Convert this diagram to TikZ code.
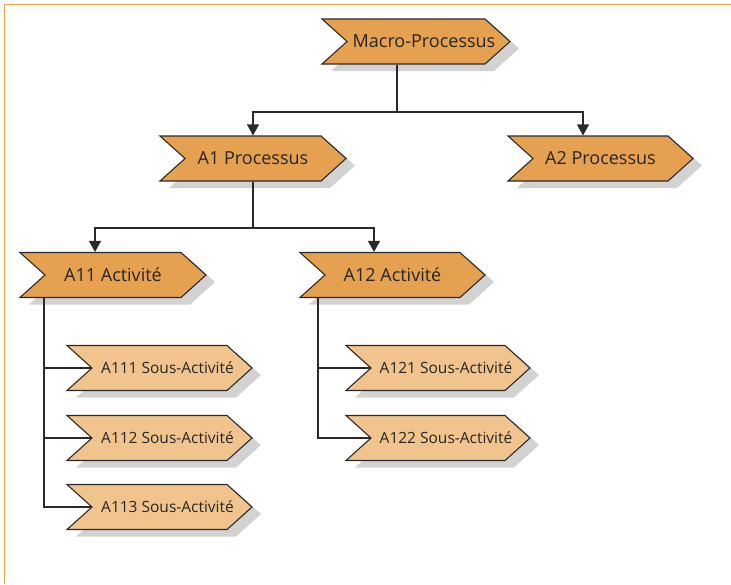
\documentclass[tikz,border=0pt]{standalone}
\usepackage{fontspec}
\setmainfont{Open Sans}
\usetikzlibrary{shapes.symbols,shadows,arrows.meta}
\definecolor{mainfill}{HTML}{E5A14F}
\definecolor{subfill}{HTML}{F0C48C}
\definecolor{frameor}{HTML}{F5A547}
\definecolor{edge}{HTML}{2A2A2A}
\definecolor{shadowgray}{HTML}{D2D2D2}
\newcommand{\ctxt}[1]{\makebox[0pt]{#1}}
\newcommand{\rtxt}[1]{\makebox[0pt]{\hspace*{16pt}#1}}
\tikzset{
  chev/.style={signal, signal to=east, signal from=west, signal pointer angle=84,
    draw=edge, line width=1.1pt, text=black!85, inner sep=0pt, minimum height=45pt,
    drop shadow={shadow xshift=9pt, shadow yshift=-7pt, fill=shadowgray, opacity=1}},
  mainbox/.style={chev, fill=mainfill, font=\fontsize{18}{20}\selectfont},
  subbox/.style={chev, fill=subfill, font=\fontsize{15.5}{17}\selectfont},
  link/.style={draw=edge, line width=1.1pt},
  arrowlink/.style={link, -{Triangle[width=12pt,length=11pt]}}
}
\begin{document}
\begin{tikzpicture}[x=1pt,y=-1pt]
\useasboundingbox (0,0) rectangle (731,584);
\draw[frameor, line width=1.6pt] (4.5,584) -- (4.5,4.5) -- (731,4.5);

\node[mainbox, minimum width=188pt] (macro) at (416,41.5) {\rtxt{Macro-Processus}};
\node[mainbox, minimum width=186pt] (a1) at (253,158.5) {\ctxt{A1 Processus}};
\node[mainbox, minimum width=185pt] (a2) at (600.5,158.5) {\ctxt{A2 Processus}};
\node[mainbox, minimum width=186pt] (a11) at (113,275) {\ctxt{A11 Activité}};
\node[mainbox, minimum width=185pt] (a12) at (392.5,275) {\ctxt{A12 Activité}};
\node[subbox, minimum width=185pt] (a111) at (159.5,368) {\rtxt{A111 Sous-Activité}};
\node[subbox, minimum width=185pt] (a112) at (159.5,438) {\rtxt{A112 Sous-Activité}};
\node[subbox, minimum width=185pt] (a113) at (159.5,507) {\rtxt{A113 Sous-Activité}};
\node[subbox, minimum width=184pt] (a121) at (438,368) {\rtxt{A121 Sous-Activité}};
\node[subbox, minimum width=184pt] (a122) at (438,438) {\rtxt{A122 Sous-Activité}};

\coordinate (j0) at (397,112);
\coordinate (j1) at (253,228);
\draw[link] (macro.south -| j0) -- (j0);
\draw[arrowlink] (j0) -| (a1.north);
\draw[arrowlink] (j0) -| (a2.north -| 583,0);
\draw[link] (a1.south) -- (j1);
\draw[arrowlink] (j1) -| (a11.north -| 95,0);
\draw[arrowlink] (j1) -| (a12.north -| 374,0);

\coordinate (k1) at (44,0);
\coordinate (k2) at (318,0);
\draw[link] (a11.south -| k1) |- (a113.west);
\draw[link] (a112.west) -- (a112.west -| k1);
\draw[link] (a111.west) -- (a111.west -| k1);
\draw[link] (a12.south -| k2) |- (a122.west);
\draw[link] (a121.west) -- (a121.west -| k2);
\end{tikzpicture}
\end{document}
